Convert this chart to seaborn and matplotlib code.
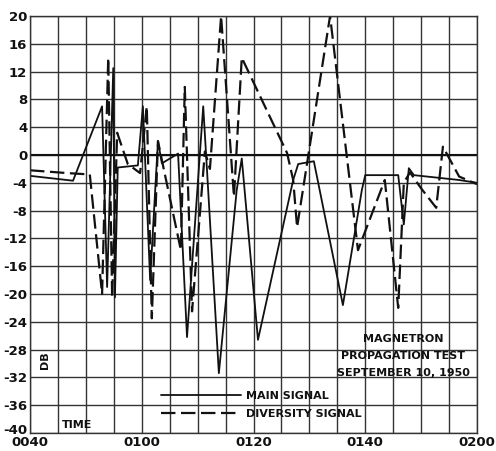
import matplotlib
matplotlib.use("Agg")
import matplotlib.pyplot as plt
import matplotlib.transforms as mtransforms
import numpy as np
import pandas as pd
import seaborn as sns

# time in minutes after midnight, level in dB
main_time = [40.0, 47.7, 52.9, 53.8, 54.9, 55.2, 55.7, 59.3, 60.2, 61.5, 62.9, 63.6,
             66.5, 68.1, 71.0, 71.7, 73.8, 77.0, 77.9, 80.8, 87.1, 88.0, 90.8, 96.0,
             99.4, 100.0, 105.9, 106.9, 107.8, 108.7, 116.8, 120.0]
main_db = [-3.0, -3.7, 7.0, -19.0, 12.5, -20.5, -1.8, -1.5, 7.0, -18.0, 2.0, -1.2,
           0.2, -26.2, 7.0, -2.5, -31.4, -5.0, -0.5, -26.6, -3.6, -1.3, -0.9, -21.6,
           -5.0, -2.9, -2.9, -10.0, -1.9, -2.9, -3.6, -4.0]

div_time = [40.0, 46.6, 50.7, 52.9, 54.0, 54.7, 55.6, 57.5, 59.7, 60.9, 61.8, 62.9,
            63.8, 67.0, 67.7, 69.0, 71.3, 72.2, 74.2, 76.5, 77.9, 86.0, 87.1, 87.8,
            93.7, 98.7, 103.5, 105.9, 106.9, 108.0, 110.0, 112.7, 113.9, 116.8, 120.0]
div_db = [-2.2, -2.6, -2.8, -20.0, 14.0, -20.5, 3.2, -1.3, -2.6, 7.0, -23.5, 2.0,
          -1.5, -13.7, 9.8, -22.5, 0.5, -2.0, 20.0, -6.0, 14.0, 0.3, -3.6, -10.4,
          20.0, -13.7, -3.6, -22.0, -4.0, -2.5, -4.8, -7.6, 1.2, -3.1, -4.2]

x_ticks = [40, 60, 80, 100, 120]
x_labels = ["0040", "0100", "0120", "0140", "0200"]
y_ticks = list(range(-40, 21, 4))

sns.set_theme(style="white")
plt.rcParams["font.family"] = ["DejaVu Sans"]
plt.rcParams["font.weight"] = "bold"

main_df = pd.DataFrame({"time": main_time, "db": main_db})
div_df = pd.DataFrame({"time": div_time, "db": div_db})

fig = plt.figure(figsize=(4.96, 4.51), dpi=100)
ax = fig.add_axes([0.0605, 0.040, 0.9012, 0.9245])

sns.lineplot(data=main_df, x="time", y="db", ax=ax, color="#111111",
             linewidth=1.3, label="MAIN SIGNAL", estimator=None, sort=False)
sns.lineplot(data=div_df, x="time", y="db", ax=ax, color="#111111",
             linewidth=1.6, label="DIVERSITY SIGNAL", estimator=None, sort=False)
ax.lines[1].set_dashes([6.5, 2.5])

ax.set_xlim(40, 120)
ax.set_ylim(-40, 20)
ax.set_xticks(np.arange(40, 121, 5), minor=True)
ax.set_xticks(x_ticks)
ax.set_xticklabels(x_labels)
ax.set_yticks(y_ticks)
ax.set_yticklabels([str(v) for v in y_ticks])
ax.grid(True, which="both", color="#333333", linewidth=1.0)
ax.set_axisbelow(True)
ax.axhline(0, color="#111111", linewidth=1.5, zorder=1)
for s in ax.spines.values():
    s.set_color("#333333")
    s.set_linewidth(1.0)
ax.tick_params(axis="both", length=0, pad=2, labelsize=9.5, colors="#111111")
ax.tick_params(axis="x", pad=2.5)
ax.set_xlabel("")
ax.set_ylabel("")

# nudge the bottom y label up so it clears the first time label
lowest = ax.get_yticklabels()[0]
lowest.set_transform(lowest.get_transform() +
                     mtransforms.ScaledTranslation(0, 3 / 72, fig.dpi_scale_trans))

leg = ax.legend(loc="upper left", bbox_to_anchor=(0.27, 0.124), frameon=False,
                handlelength=7.2, handletextpad=0.5, labelspacing=0.7,
                prop={"size": 8, "weight": "bold"})
for t in leg.get_texts():
    t.set_color("#111111")

ax.text(0.835, 0.226, "MAGNETRON", transform=ax.transAxes, ha="center",
        va="center", fontsize=8, fontweight="bold", color="#111111")
ax.text(0.835, 0.184, "PROPAGATION TEST", transform=ax.transAxes, ha="center",
        va="center", fontsize=8, fontweight="bold", color="#111111")
ax.text(0.835, 0.145, "SEPTEMBER 10, 1950", transform=ax.transAxes, ha="center",
        va="center", fontsize=8, fontweight="bold", color="#111111")
ax.text(0.034, 0.175, "DB", transform=ax.transAxes, ha="center", va="center",
        rotation=90, fontsize=8, fontweight="bold", color="#111111")
ax.text(0.072, 0.02, "TIME", transform=ax.transAxes, ha="left", va="center",
        fontsize=8, fontweight="bold", color="#111111")

fig.savefig("out.png", dpi=100)
